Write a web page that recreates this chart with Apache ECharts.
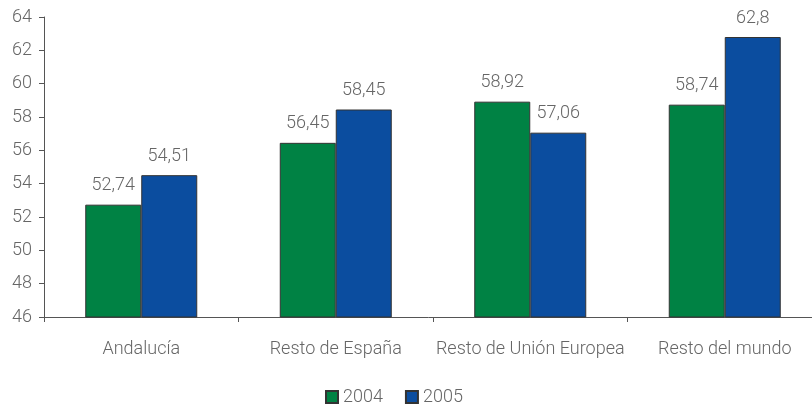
<!DOCTYPE html>
<html><head><meta charset="utf-8">
<script src="https://cdn.jsdelivr.net/npm/echarts@6/dist/echarts.min.js"></script>
<style>html,body{margin:0;padding:0;background:#fff}#c{width:812px;height:404px}</style>
</head><body><div id="c"></div>
<script>
const categories = ['Andalucía', 'Resto de España', 'Resto de Unión Europea', 'Resto del mundo'];
const series2004 = [52.74, 56.45, 58.92, 58.74];
const series2005 = [54.51, 58.45, 57.06, 62.8];
const seriesNames = ['2004', '2005'];
const yTicks = [46, 48, 50, 52, 54, 56, 58, 60, 62, 64];

const font = 'Roboto';
const fmt = p => String(p.value).replace('.', ',');
const chart = echarts.init(document.getElementById('c'), null, {renderer: 'canvas'});
const barCommon = {
  type: 'bar', barWidth: 56, barGap: '0%',
  itemStyle: {borderColor: '#333', borderWidth: 1},
  label: {show: true, position: 'top', distance: 10, formatter: fmt,
    color: '#666', fontSize: 18, fontFamily: font, fontWeight: 300}
};
chart.setOption({
  animation: false,
  grid: {left: 44, width: 778, top: 17, bottom: 87, containLabel: false, outerBoundsMode: 'none'},
  legend: {
    bottom: -7, left: 320, itemWidth: 12, itemHeight: 12, itemGap: 22, itemTextGap: 4,
    icon: 'rect',
    textStyle: {color: '#666', fontSize: 18, fontFamily: font, fontWeight: 300},
    data: seriesNames
  },
  xAxis: {
    type: 'category', data: categories,
    axisLine: {lineStyle: {color: '#555'}},
    axisTick: {show: true, length: 5, lineStyle: {color: '#555'}},
    axisLabel: {interval: 0, color: '#666', fontSize: 18, fontFamily: font, fontWeight: 300, margin: 23}
  },
  yAxis: {
    type: 'value', min: yTicks[0], max: yTicks[yTicks.length - 1], interval: 2,
    axisLine: {show: true, lineStyle: {color: '#555'}},
    axisTick: {show: true, length: 5, lineStyle: {color: '#555'}},
    splitLine: {show: false},
    axisLabel: {color: '#666', fontSize: 18, fontFamily: font, fontWeight: 300, margin: 12}
  },
  series: [
    Object.assign({}, barCommon, {name: seriesNames[0], data: series2004, itemStyle: Object.assign({}, barCommon.itemStyle, {color: '#008244'})}),
    Object.assign({}, barCommon, {name: seriesNames[1], data: series2005, itemStyle: Object.assign({}, barCommon.itemStyle, {color: '#0b4d9f'})})
  ]
});
</script></body></html>
